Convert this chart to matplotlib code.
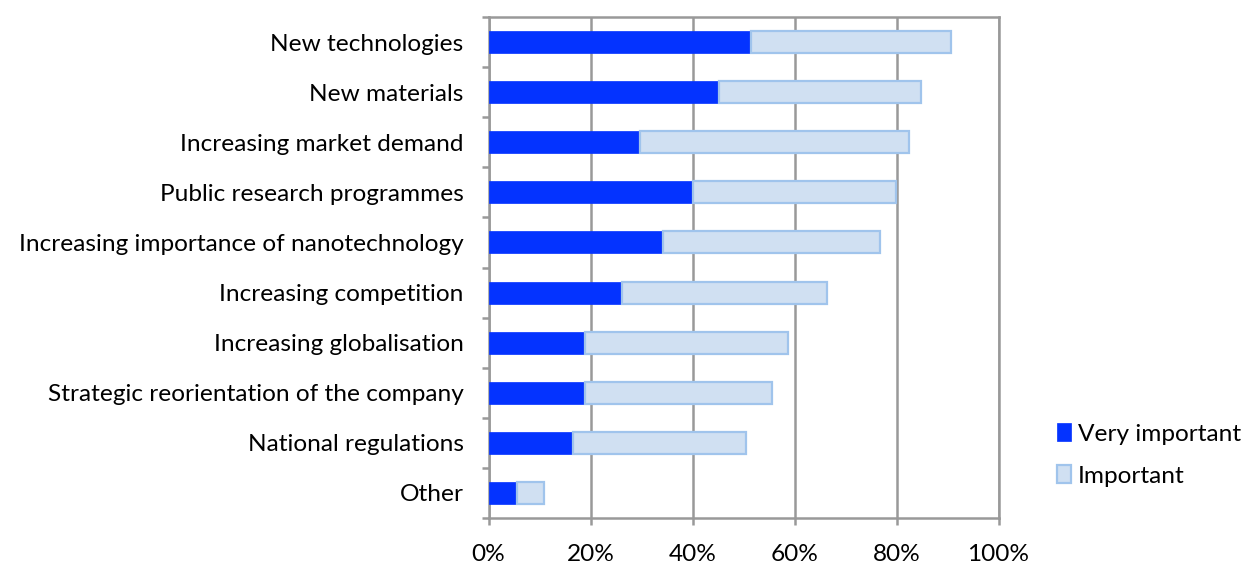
import numpy as np
import matplotlib.pyplot as plt
from matplotlib.ticker import FixedLocator, PercentFormatter

# drivers of innovation, share of firms (%)
categories = ['New technologies', 'New materials', 'Increasing market demand',
              'Public research programmes', 'Increasing importance of nanotechnology',
              'Increasing competition', 'Increasing globalisation',
              'Strategic reorientation of the company', 'National regulations', 'Other']
very_important = [51.4, 45.1, 29.8, 40.1, 34.3, 26.1, 19.0, 19.0, 16.6, 5.6]
total = [90.6, 84.9, 82.4, 79.9, 76.7, 66.4, 58.8, 55.5, 50.5, 10.9]
important = [t - v for t, v in zip(total, very_important)]

plt.rcParams['font.family'] = ['Lato', 'DejaVu Sans']

fig = plt.figure(figsize=(12.52, 5.67), dpi=100)
ax = fig.add_axes([488.5/1252, 1 - 518/567, 510/1252, 501/567])

y = np.arange(len(categories))
grey = '#999999'
ax.barh(y, very_important, height=0.44, color='#0433ff', edgecolor='#0433ff',
        linewidth=0.5, label='Very important', zorder=3)
ax.barh(y, important, left=very_important, height=0.44, color='#d0e0f2',
        edgecolor='#a0c4ec', linewidth=1.6, label='Important', zorder=3)

ax.set_xlim(0, 100)
ax.set_ylim(len(categories) - 0.5, -0.5)
ax.set_xticks(np.arange(0, 101, 20))
ax.xaxis.set_major_formatter(PercentFormatter(decimals=0))
ax.set_yticks(y)
ax.set_yticklabels(categories)
ax.yaxis.set_minor_locator(FixedLocator(np.arange(-0.5, len(categories), 1)))
ax.tick_params(axis='y', which='major', length=0, pad=18, labelsize=17.6)
ax.tick_params(axis='y', which='minor', length=5, width=1.8, color=grey)
ax.tick_params(axis='x', length=5, width=1.8, color=grey, pad=14, labelsize=17.6)
ax.grid(axis='x', color=grey, linewidth=1.8, zorder=0)
for s in ax.spines.values():
    s.set_color(grey)
    s.set_linewidth(1.8)

ax.legend(loc='lower left', bbox_to_anchor=(1045/1252, 68/567), bbox_transform=fig.transFigure,
          frameon=False, fontsize=17.6, handlelength=0.55, handleheight=0.75,
          handletextpad=0.3, labelspacing=0.85, borderpad=0)

fig.savefig('out.png')
